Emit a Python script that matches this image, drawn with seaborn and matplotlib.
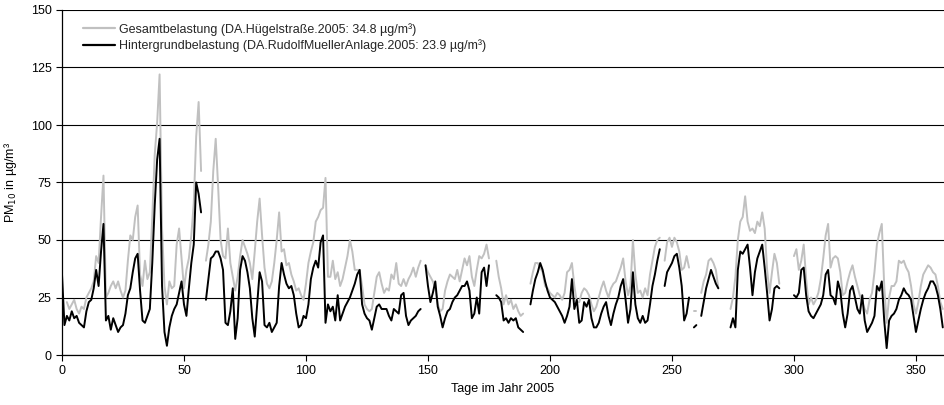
import numpy as np
import pandas as pd
import matplotlib
matplotlib.use("Agg")
import matplotlib.pyplot as plt
from matplotlib.lines import Line2D
import seaborn as sns

nan = np.nan
days = list(range(362))

# Gesamtbelastung (DA.Hügelstraße) daily PM10, µg/m³
gesamt = [
    nan, nan, 23, 20, 22, 24, 20, 18, 21, 20,
    25, 27, 29, 32, 43, 40, 60, 78, 25, 27,
    30, 32, 29, 32, 28, 25, 28, 41, 52, 50,
    60, 65, 35, 30, 41, 33, 36, 60, 87, 101,
    122, 55, 30, 22, 32, 29, 30, 48, 55, 42,
    29, 37, 42, 52, 66, 95, 110, 80, nan, 41,
    48, 58, 80, 94, 73, 50, 43, 42, 55, 40,
    34, 28, 34, 43, 50, 47, 44, 40, 33, 45,
    58, 68, 52, 38, 31, 29, 32, 40, 50, 62,
    45, 46, 39, 40, 35, 32, 28, 29, 26, 24,
    31, 40, 45, 49, 58, 60, 63, 64, 77, 34,
    34, 41, 33, 36, 30, 33, 38, 43, 50, 45,
    37, 37, 37, 30, 22, 20, 19, 20, 27, 34,
    36, 31, 27, 29, 28, 35, 33, 40, 31, 30,
    33, 30, 33, 35, 38, 34, 38, 41, nan, 39,
    36, 34, 32, 29, 22, 19, 20, 28, 32, 35,
    34, 33, 37, 32, 37, 42, 39, 43, 34, 30,
    37, 43, 42, 44, 48, 42, nan, nan, 41, 34,
    29, 22, 26, 22, 24, 20, 22, 19, 17, 18,
    nan, nan, 31, 36, 40, 40, 38, 36, 30, 29,
    27, 26, 25, 27, 26, 24, 27, 36, 37, 40,
    30, 23, 23, 27, 29, 28, 26, 22, 19, 21,
    25, 29, 32, 28, 25, 29, 31, 32, 35, 38,
    42, 32, 26, 30, 50, 35, 27, 28, 25, 29,
    26, 35, 41, 47, 50, 51, nan, 41, 49, 51,
    47, 51, 49, 45, 37, 38, 43, 38, nan, 19,
    19, nan, 27, 32, 35, 41, 42, 40, 37, 29,
    nan, 24, nan, nan, 20, 25, 34, 50, 58, 60,
    69, 58, 54, 55, 53, 58, 56, 62, 55, 37,
    27, 36, 44, 40, 31, nan, nan, nan, nan, nan,
    43, 46, 37, 41, 48, 33, 22, 25, 22, 24,
    27, 33, 42, 52, 57, 38, 42, 43, 42, 36,
    26, 27, 32, 36, 39, 34, 30, 26, 23, 20,
    18, 24, 27, 36, 48, 53, 57, 30, 14, 25,
    30, 30, 32, 41, 40, 41, 38, 36, 30, 22,
    18, 23, 30, 35, 37, 39, 38, 36, 35, 30,
    23, 20,
]

# Hintergrundbelastung (DA.RudolfMuellerAnlage) daily PM10, µg/m³
hintergrund = [
    35, 13, 17, 15, 19, 16, 17, 14, 13, 12,
    19, 23, 24, 29, 37, 30, 45, 57, 15, 17,
    11, 16, 13, 10, 12, 13, 18, 26, 29, 36,
    42, 44, 28, 15, 14, 17, 20, 40, 65, 85,
    94, 30, 10, 4, 12, 17, 20, 22, 27, 32,
    22, 17, 29, 40, 48, 75, 70, 62, nan, 24,
    33, 42, 43, 45, 45, 42, 37, 14, 13, 19,
    29, 7, 16, 37, 43, 41, 36, 29, 16, 8,
    22, 36, 32, 13, 12, 14, 10, 12, 14, 30,
    40, 35, 31, 29, 30, 26, 18, 12, 13, 17,
    16, 22, 33, 38, 41, 38, 49, 52, 14, 22,
    19, 21, 15, 26, 15, 18, 21, 23, 25, 28,
    31, 35, 37, 22, 18, 16, 15, 11, 16, 21,
    22, 20, 20, 20, 17, 15, 20, 19, 18, 26,
    27, 17, 13, 15, 16, 17, 19, 20, nan, 39,
    30, 23, 27, 32, 21, 17, 12, 16, 19, 20,
    23, 25, 26, 28, 30, 30, 32, 28, 16, 18,
    25, 18, 36, 38, 30, 39, nan, nan, 26, 25,
    23, 15, 16, 14, 16, 15, 16, 12, 11, 10,
    nan, nan, 22, 28, 33, 36, 40, 37, 32, 28,
    25, 24, 23, 21, 19, 17, 14, 17, 21, 33,
    20, 24, 14, 15, 23, 21, 24, 16, 12, 12,
    14, 18, 21, 23, 17, 13, 18, 22, 25, 30,
    33, 24, 14, 20, 36, 22, 16, 14, 17, 14,
    15, 22, 30, 35, 41, 46, nan, 30, 36, 38,
    40, 43, 44, 38, 30, 15, 18, 25, nan, 12,
    13, nan, 17, 23, 29, 33, 37, 34, 31, 29,
    nan, 21, nan, nan, 12, 16, 12, 37, 45, 44,
    46, 48, 38, 26, 36, 42, 45, 48, 38, 27,
    15, 20, 29, 30, 29, nan, nan, nan, nan, nan,
    26, 25, 27, 37, 38, 26, 19, 17, 16, 18,
    20, 22, 26, 35, 37, 26, 25, 22, 32, 28,
    18, 12, 18, 28, 30, 25, 20, 18, 26, 15,
    10, 12, 14, 17, 30, 28, 32, 15, 3, 15,
    17, 18, 20, 24, 26, 29, 27, 26, 24, 17,
    10, 15, 20, 24, 27, 29, 32, 32, 30, 26,
    20, 12,
]

labels = [
    "Gesamtbelastung (DA.Hügelstraße.2005: 34.8 µg/m³)",
    "Hintergrundbelastung (DA.RudolfMuellerAnlage.2005: 23.9 µg/m³)",
]
yticks = [0, 25, 50, 75, 100, 125, 150]
xticks = [0, 50, 100, 150, 200, 250, 300, 350]


def to_frame(values, name):
    df = pd.DataFrame({"day": days, "value": values})
    df["series"] = name
    # segment id so that missing days produce gaps
    df["seg"] = df["value"].isna().cumsum()
    return df.dropna()


df = pd.concat([to_frame(gesamt, labels[0]), to_frame(hintergrund, labels[1])],
               ignore_index=True)

sns.set_theme(style="white")
plt.rcParams["font.family"] = ["Liberation Sans", "DejaVu Sans"]

fig = plt.figure(figsize=(9.44, 4.05), dpi=100)
ax = fig.add_axes([62 / 944, 1 - 355 / 405, 1 - 62 / 944, (355 - 10) / 405])

palette = {labels[0]: "#c0c0c0", labels[1]: "#000000"}
sns.lineplot(data=df, x="day", y="value", hue="series", units="seg",
             estimator=None, palette=palette, linewidth=1.4, legend=False,
             ax=ax, sort=True)

fs = 9
ax.set_xlim(0, 361.5)
ax.set_ylim(0, 150)
ax.set_yticks(yticks)
ax.set_xticks(xticks)
ax.yaxis.grid(True, color="#000000", linewidth=0.8)
ax.xaxis.grid(False)
ax.set_axisbelow(True)
for s in ["top", "right"]:
    ax.spines[s].set_visible(False)
for s in ["left", "bottom"]:
    ax.spines[s].set_color("black")
    ax.spines[s].set_linewidth(0.9)
ax.tick_params(axis="both", which="major", direction="out", length=4,
               width=0.8, color="black", labelsize=fs, labelcolor="black",
               left=True, bottom=True)
ax.set_xlabel("Tage im Jahr 2005", fontsize=fs, color="black", labelpad=4)
ax.set_ylabel("PM$_{10}$ in µg/m³", fontsize=fs, color="black", labelpad=8)

handles = [Line2D([], [], color=palette[l], linewidth=1.6) for l in labels]
ax.legend(handles, labels, loc="upper left", bbox_to_anchor=(0.015, 0.985),
          frameon=False, fontsize=fs, handlelength=2.6, handletextpad=0.3,
          labelspacing=0.3, borderaxespad=0.2)

fig.savefig("out.png", dpi=100)
